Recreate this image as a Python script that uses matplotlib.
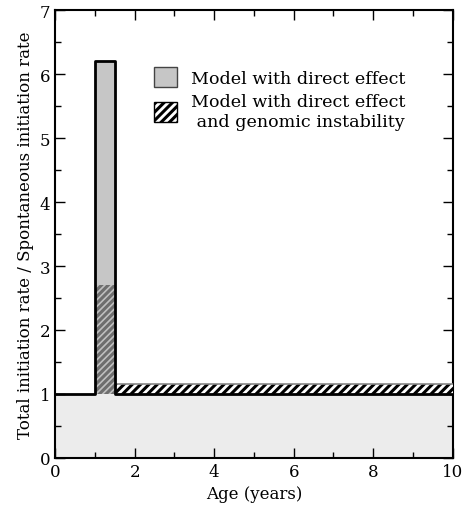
import matplotlib.pyplot as plt
import matplotlib.patches as mpatches
from matplotlib.ticker import MultipleLocator

# piecewise-constant rates, segment edges in years
edges = [0, 1, 1.5, 10]
direct_effect = [1.0, 6.2, 1.0]
genomic_instab = [1.0, 2.7, 1.15]
baseline = 1.0

plt.rcParams['font.family'] = 'DejaVu Serif'
plt.rcParams['hatch.linewidth'] = 2.2

fig = plt.figure(figsize=(4.63, 5.06), dpi=100)
ax = fig.add_axes([0.119, 0.093, 0.859, 0.885])

# spontaneous part
ax.fill_between([edges[0], edges[-1]], 0, baseline, color='#ececec', lw=0, zorder=1)

for i in range(len(direct_effect)):
    x0, x1 = edges[i], edges[i + 1]
    w = x1 - x0
    if direct_effect[i] > baseline:
        ax.bar(x0, direct_effect[i] - baseline, width=w, bottom=baseline, align='edge',
               facecolor='#c6c6c6', edgecolor='none', zorder=2)
    if genomic_instab[i] > baseline:
        if direct_effect[i] > genomic_instab[i]:
            ax.bar(x0, genomic_instab[i] - baseline, width=w, bottom=baseline, align='edge',
                   facecolor='#c0c0c0', edgecolor='#6e6e6e', hatch='/////', lw=0, zorder=3)
        else:
            ax.bar(x0, genomic_instab[i] - baseline, width=w, bottom=baseline, align='edge',
                   facecolor='white', edgecolor='black', hatch='////', lw=0, zorder=3)
            ax.plot([x0, x1], [genomic_instab[i]] * 2, color='#888888', lw=1.2, zorder=4)

# outline of the direct-effect curve
xs, ys = [], []
for i in range(len(direct_effect)):
    xs += [edges[i], edges[i + 1]]
    ys += [direct_effect[i], direct_effect[i]]
ax.plot(xs, ys, color='black', lw=2, zorder=5)

ax.set_xlim(0, 10)
ax.set_ylim(0, 7)
ax.xaxis.set_major_locator(MultipleLocator(2))
ax.xaxis.set_minor_locator(MultipleLocator(1))
ax.yaxis.set_major_locator(MultipleLocator(1))
ax.yaxis.set_minor_locator(MultipleLocator(0.5))
ax.tick_params(which='both', direction='in', top=True, right=True, labelsize=12)
ax.tick_params(which='major', length=7, width=1)
ax.tick_params(which='minor', length=4, width=1)
for s in ax.spines.values():
    s.set_linewidth(1.5)

ax.set_xlabel('Age (years)', fontsize=12)
ax.set_ylabel('Total initiation rate / Spontaneous initiation rate', fontsize=12)

h1 = mpatches.Patch(facecolor='#c6c6c6', edgecolor='#444444', lw=1)
h2 = mpatches.Patch(facecolor='white', edgecolor='black', hatch='////', lw=1)
leg = ax.legend([h1, h2], ['Model with direct effect', 'Model with direct effect\n and genomic instability'],
                loc='upper left', bbox_to_anchor=(0.249, 0.872), frameon=False, fontsize=12.6,
                borderpad=0, borderaxespad=0,
                handlelength=1.3, handleheight=1.35, handletextpad=0.8, labelspacing=0.35)

fig.savefig('out.png', dpi=100)
